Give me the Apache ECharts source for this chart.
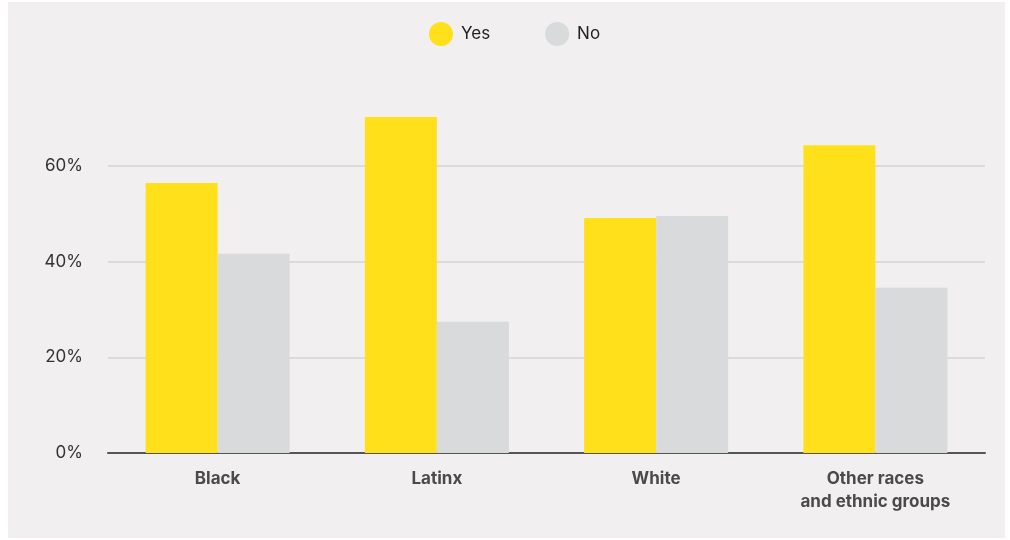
<!DOCTYPE html>
<html>
<head>
<meta charset="utf-8">
<script src="https://cdn.jsdelivr.net/npm/echarts@6/dist/echarts.min.js"></script>
<style>
  html, body { margin: 0; padding: 0; background: #ffffff; }
  #chart { position: absolute; left: 8px; top: 2px; width: 997px; height: 536px; background: #f1eff0; }
</style>
</head>
<body>
<div id="chart"></div>
<script>
  // data
  var categories = ["Black", "Latinx", "White", "Other races\nand ethnic groups"];
  var yesValues = [56.4, 70.2, 49.1, 64.3];
  var noValues = [41.6, 27.4, 49.5, 34.5];
  var yTicks = [0, 20, 40, 60, 80];

  var chart = echarts.init(document.getElementById("chart"));
  var option = {
    backgroundColor: "#f1eff0",
    textStyle: { fontFamily: "Inter, 'Noto Sans', sans-serif" },
    legend: {
      left: 416,
      top: 15,
      icon: "circle",
      itemWidth: 24,
      itemHeight: 24,
      itemGap: 55,
      textStyle: { fontSize: 17, color: "#222", padding: [0, 0, 0, 3] },
      data: ["Yes", "No"]
    },
    grid: { left: 100, right: 20, top: 68, bottom: 85 },
    xAxis: {
      type: "category",
      data: categories,
      axisLine: { lineStyle: { color: "#555", width: 2 } },
      axisTick: { show: false },
      axisLabel: {
        fontSize: 17,
        fontWeight: "bold",
        color: "#4a4a4a",
        margin: 14,
        lineHeight: 23
      }
    },
    yAxis: {
      type: "value",
      min: yTicks[0],
      max: yTicks[yTicks.length - 1],
      interval: 20,
      axisLine: { show: false },
      axisTick: { show: false },
      axisLabel: {
        fontSize: 17,
        color: "#333",
        margin: 25,
        showMaxLabel: false,
        formatter: "{value}%"
      },
      splitLine: {
        lineStyle: { color: ["#dcdadb", "#dcdadb", "#dcdadb", "#dcdadb", "rgba(0,0,0,0)"], width: 2 }
      }
    },
    series: [
      {
        name: "Yes",
        type: "bar",
        data: yesValues,
        barWidth: 72,
        barGap: "0%",
        itemStyle: { color: "#ffe01b" }
      },
      {
        name: "No",
        type: "bar",
        data: noValues,
        barWidth: 72,
        itemStyle: { color: "#d9dadb" }
      }
    ]
  };
  chart.setOption(option);
</script>
</body>
</html>
